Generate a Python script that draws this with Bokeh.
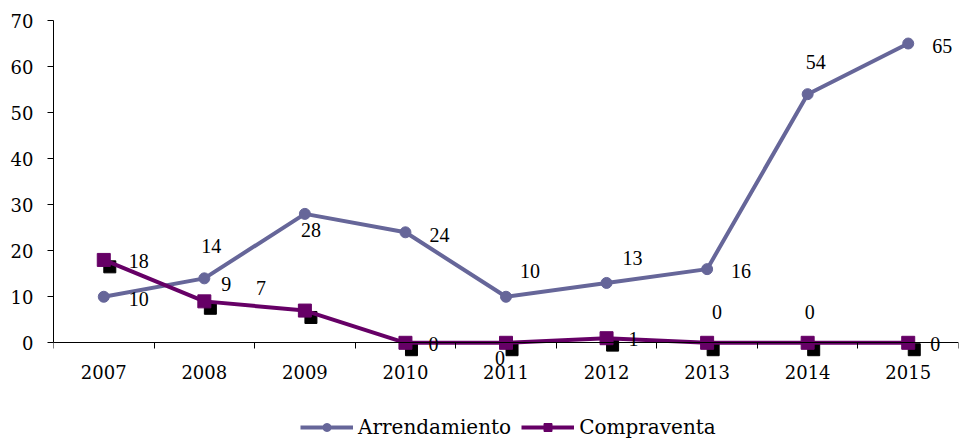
from bokeh.plotting import figure
from bokeh.models import (ColumnDataSource, Range1d, FixedTicker, LabelSet, Legend, LegendItem)
from bokeh.transform import dodge
from bokeh.embed import file_html
from bokeh.resources import INLINE

# ---- data ----
years = [2007, 2008, 2009, 2010, 2011, 2012, 2013, 2014, 2015]
arrendamiento = [10, 14, 28, 24, 10, 13, 16, 54, 65]
compraventa = [18, 9, 7, 0, 0, 1, 0, 0, 0]
y_ticks = [0, 10, 20, 30, 40, 50, 60, 70]

# label offsets in screen pixels (dx right, dy up)
arr_dx = [35, 7, 6, 34, 24, 26, 34, 8, 34]
arr_dy = [-2, 32, -16, -3, 26, 25, -2, 32, -2]
comp_dx = [35, 22, -44, 28, -6, 27, 10, 2, 27]
comp_dy = [-1, 17, 23, -1, -15, -1, 31, 31, -1]

FONT = "DejaVu Serif"
C_ARR = "#666699"
C_COMP = "#660066"

src_a = ColumnDataSource(dict(x=years, y=arrendamiento, t=[str(v) for v in arrendamiento], dx=arr_dx, dy=arr_dy))
src_c = ColumnDataSource(dict(x=years, y=compraventa, t=[str(v) for v in compraventa], dx=comp_dx, dy=comp_dy))

p = figure(width=959, height=439, output_backend="svg", toolbar_location=None,
           x_range=Range1d(years[0] - 0.5, years[-1] + 0.5),
           y_range=Range1d(-21, 70),
           min_border_left=53, min_border_right=1, min_border_top=20, min_border_bottom=0)
p.outline_line_color = None
p.grid.visible = False

# axes
xa = p.xaxis[0]
xa.fixed_location = 0
xa.ticker = FixedTicker(ticks=years, minor_ticks=[y - 0.5 for y in years] + [years[-1] + 0.5])
xa.major_label_overrides = {y: str(y) for y in years}
xa.major_tick_out = 0
xa.major_tick_in = 0
xa.minor_tick_out = 6
xa.minor_tick_in = 0
xa.minor_tick_line_color = "black"
xa.axis_line_color = "black"
xa.major_label_standoff = 16
xa.major_label_text_font = FONT
xa.major_label_text_font_size = "18px"
xa.major_label_text_color = "black"

ya = p.yaxis[0]
ya.bounds = (0, 70)
ya.ticker = FixedTicker(ticks=y_ticks)
ya.major_tick_out = 6
ya.major_tick_in = 0
ya.minor_tick_line_color = None
ya.axis_line_color = "black"
ya.major_tick_line_color = "black"
ya.major_label_standoff = 14
ya.major_label_text_font = FONT
ya.major_label_text_font_size = "18px"
ya.major_label_text_color = "black"

# series
la = p.line("x", "y", source=src_a, line_color=C_ARR, line_width=4)
ma = p.scatter("x", "y", source=src_a, marker="circle", size=11, fill_color=C_ARR, line_color=C_ARR)

p.scatter(dodge("x", 0.06), dodge("y", -1.5), source=src_c, marker="square", size=12,
          fill_color="black", line_color="black")
lc = p.line("x", "y", source=src_c, line_color=C_COMP, line_width=4)
mc = p.scatter("x", "y", source=src_c, marker="square", size=13, fill_color=C_COMP, line_color=C_COMP)

for s in (src_a, src_c):
    p.add_layout(LabelSet(x="x", y="y", text="t", source=s, x_offset="dx", y_offset="dy",
                          text_align="center", text_baseline="middle",
                          text_font=FONT, text_font_size="20px", text_color="black"))

legend = Legend(items=[LegendItem(label="Arrendamiento", renderers=[la, ma]),
                       LegendItem(label="Compraventa", renderers=[lc, mc])],
                location=(247, 0), orientation="horizontal",
                glyph_width=53, glyph_height=20, label_standoff=5, spacing=10,
                padding=0, margin=0, border_line_color=None, background_fill_alpha=0,
                label_text_font=FONT, label_text_font_size="20px", label_text_color="black")
p.add_layout(legend, "center")

open("out.html", "w").write(file_html(p, INLINE))
